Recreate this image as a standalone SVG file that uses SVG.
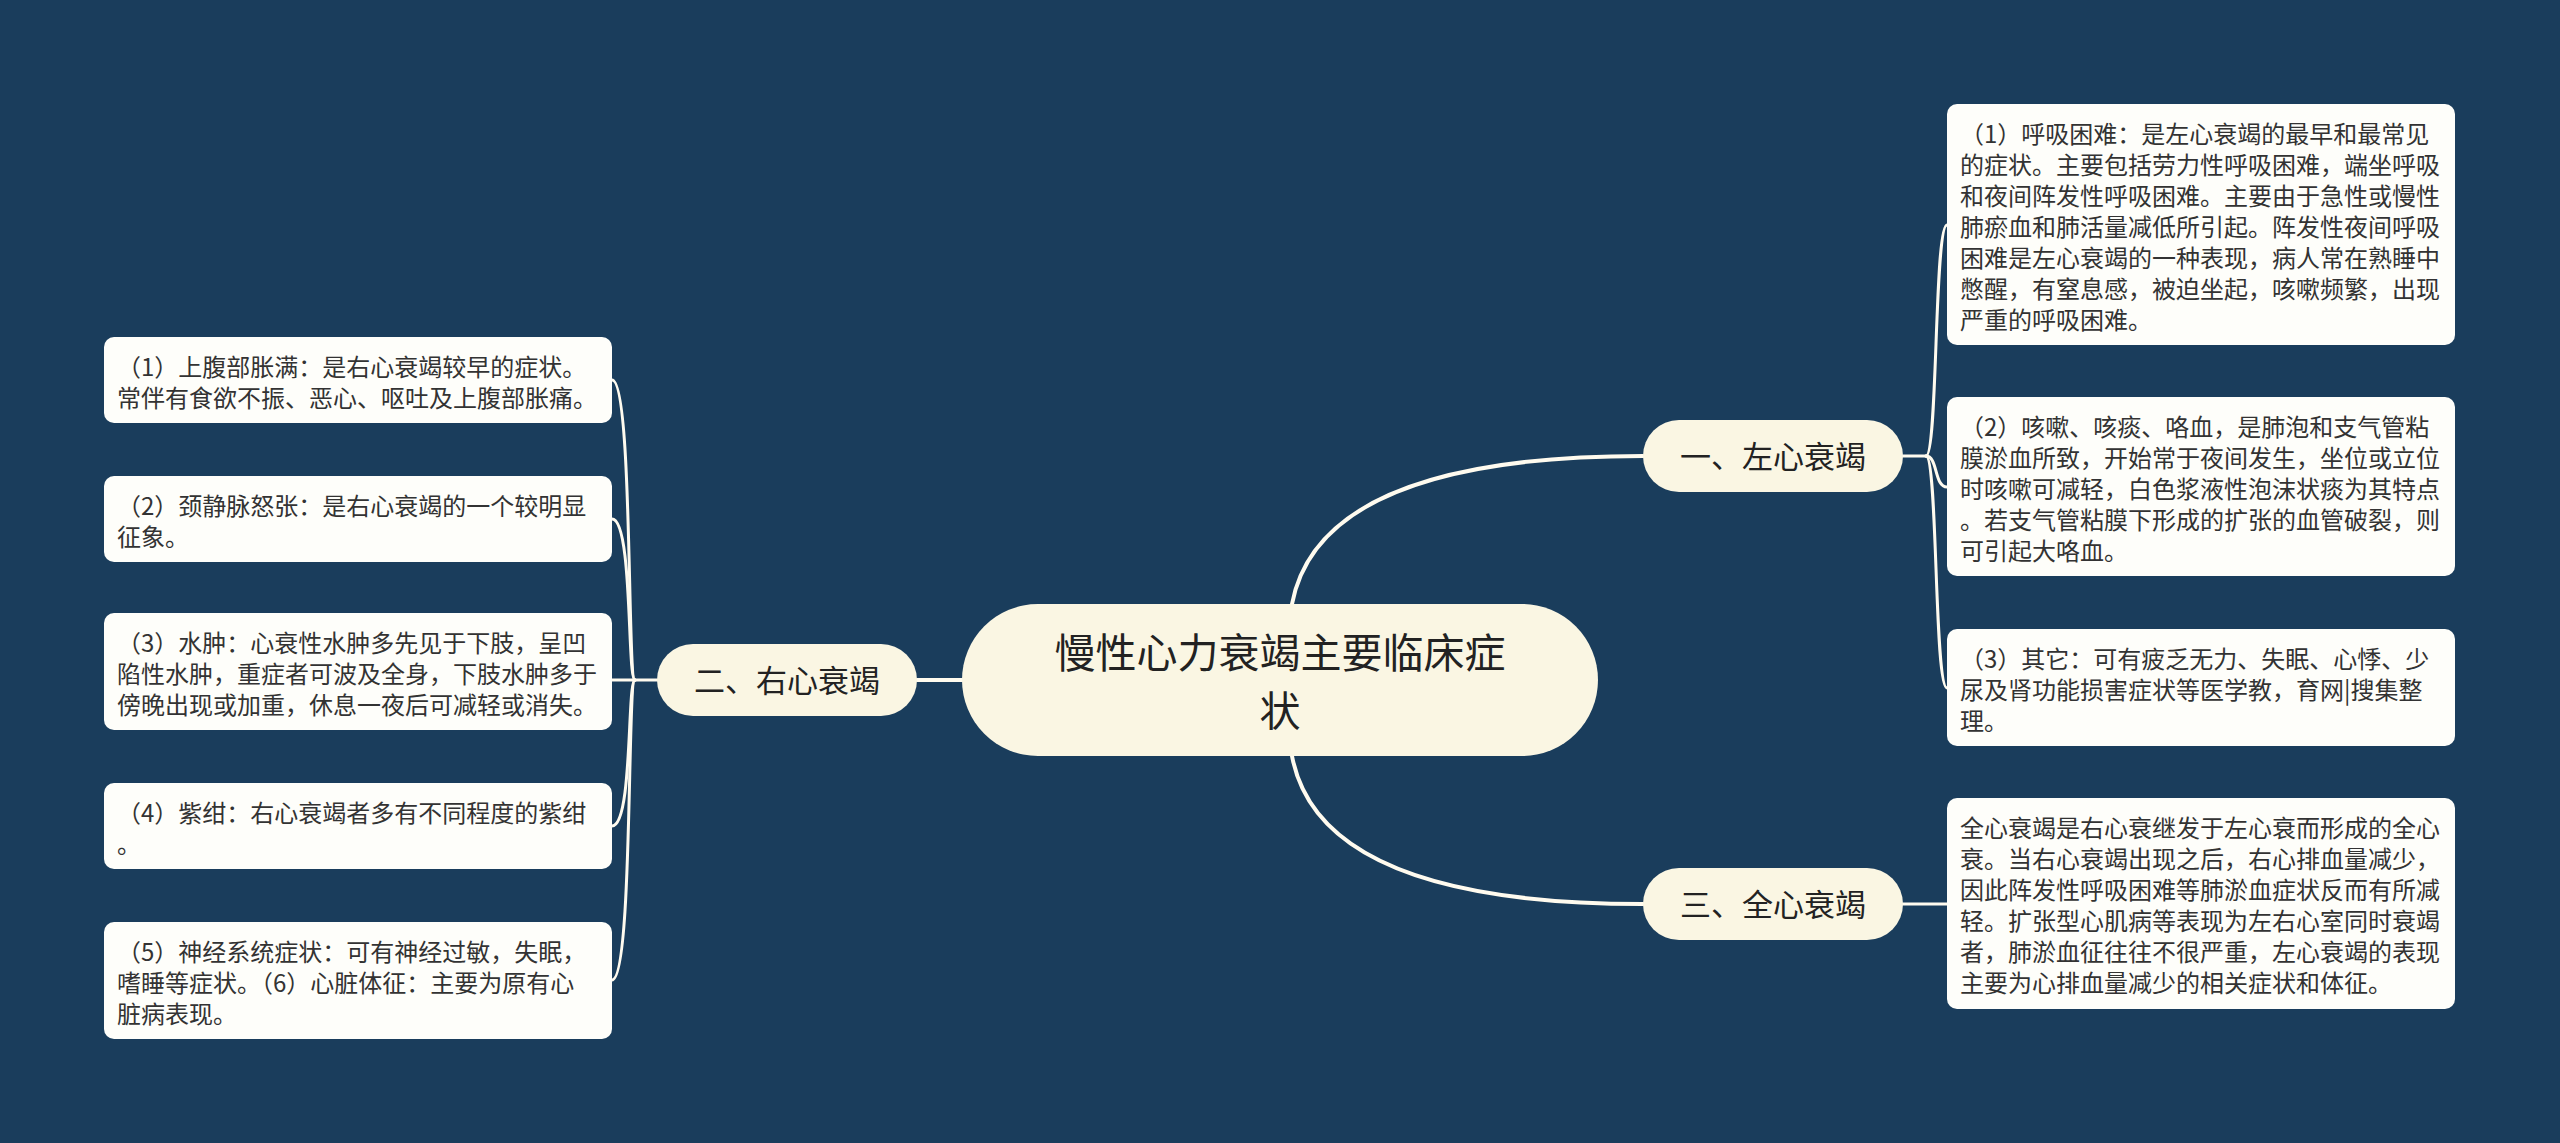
<svg xmlns="http://www.w3.org/2000/svg" width="2560" height="1143" viewBox="0 0 2560 1143">
<style>
.bg{fill:#1a3d5c}
.main{fill:#faf6e3}
.leaf{fill:#fefefa}
.t0{font-family:"Noto Sans CJK SC","Noto Sans",sans-serif;font-size:41px;fill:#222;text-anchor:middle}
.t1{font-family:"Noto Sans CJK SC","Noto Sans",sans-serif;font-size:31px;fill:#222;text-anchor:middle}
.t2{font-family:"Noto Sans CJK SC","Noto Sans",sans-serif;font-size:24px;fill:#333}
.c1{fill:none;stroke:#fffbef;stroke-width:4;stroke-linecap:round}
.c2{fill:none;stroke:#fffbef;stroke-width:3;stroke-linecap:round}
</style>
<rect class="bg" x="0" y="0" width="2560" height="1143"/>
<g id="connectors">
<path class="c1" d="M1292 604 Q1320 456 1643 456"/>
<path class="c1" d="M1292 756 Q1320 904 1643 904"/>
<path class="c1" d="M917 680 L962 680"/>
<path class="c2" d="M1903 904 L1947 904"/>
<path class="c2" d="M1903 456 L1926 456"/>
<path class="c2" d="M1926 456 C1938 456 1934 225 1947 225"/>
<path class="c2" d="M1926 456 C1938 456 1934 487 1947 487"/>
<path class="c2" d="M1926 456 C1938 456 1934 688 1947 688"/>
<path class="c2" d="M657 680 L612 680"/>
<path class="c2" d="M635 680 C627 680 633 380 612 380"/>
<path class="c2" d="M635 680 C627 680 633 519 612 519"/>
<path class="c2" d="M635 680 C627 680 633 826 612 826"/>
<path class="c2" d="M635 680 C627 680 633 980 612 980"/>
</g>
<g id="root">
<rect class="main" x="962" y="604" width="636" height="152" rx="76"/>
<text class="t0"><tspan x="1280" y="668">慢性心力衰竭主要临床症</tspan><tspan x="1280" y="726">状</tspan></text>
</g>
<g id="left-heart">
<rect class="main" x="1643" y="420" width="260" height="72" rx="36"/>
<text class="t1" x="1773" y="468">一、左心衰竭</text>
</g>
<g id="right-heart">
<rect class="main" x="657" y="644" width="260" height="72" rx="36"/>
<text class="t1" x="787" y="692">二、右心衰竭</text>
</g>
<g id="whole-heart">
<rect class="main" x="1643" y="868" width="260" height="72" rx="36"/>
<text class="t1" x="1773" y="916">三、全心衰竭</text>
</g>
<g id="r1">
<rect class="leaf" x="1947" y="104" width="508" height="241" rx="10"/>
<text class="t2"><tspan x="1960" y="143">（1）呼吸困难：是左心衰竭的最早和最常见</tspan><tspan x="1960" y="174">的症状。主要包括劳力性呼吸困难，端坐呼吸</tspan><tspan x="1960" y="205">和夜间阵发性呼吸困难。主要由于急性或慢性</tspan><tspan x="1960" y="236">肺瘀血和肺活量减低所引起。阵发性夜间呼吸</tspan><tspan x="1960" y="267">困难是左心衰竭的一种表现，病人常在熟睡中</tspan><tspan x="1960" y="298">憋醒，有窒息感，被迫坐起，咳嗽频繁，出现</tspan><tspan x="1960" y="329">严重的呼吸困难。</tspan></text>
</g>
<g id="r2">
<rect class="leaf" x="1947" y="397" width="508" height="179" rx="10"/>
<text class="t2"><tspan x="1960" y="436">（2）咳嗽、咳痰、咯血，是肺泡和支气管粘</tspan><tspan x="1960" y="467">膜淤血所致，开始常于夜间发生，坐位或立位</tspan><tspan x="1960" y="498">时咳嗽可减轻，白色浆液性泡沫状痰为其特点</tspan><tspan x="1960" y="529">。若支气管粘膜下形成的扩张的血管破裂，则</tspan><tspan x="1960" y="560">可引起大咯血。</tspan></text>
</g>
<g id="r3">
<rect class="leaf" x="1947" y="629" width="508" height="117" rx="10"/>
<text class="t2"><tspan x="1960" y="668">（3）其它：可有疲乏无力、失眠、心悸、少</tspan><tspan x="1960" y="699">尿及肾功能损害症状等医学教，育网|搜集整</tspan><tspan x="1960" y="730">理。</tspan></text>
</g>
<g id="r4">
<rect class="leaf" x="1947" y="798" width="508" height="211" rx="10"/>
<text class="t2"><tspan x="1960" y="837">全心衰竭是右心衰继发于左心衰而形成的全心</tspan><tspan x="1960" y="868">衰。当右心衰竭出现之后，右心排血量减少，</tspan><tspan x="1960" y="899">因此阵发性呼吸困难等肺淤血症状反而有所减</tspan><tspan x="1960" y="930">轻。扩张型心肌病等表现为左右心室同时衰竭</tspan><tspan x="1960" y="961">者，肺淤血征往往不很严重，左心衰竭的表现</tspan><tspan x="1960" y="992">主要为心排血量减少的相关症状和体征。</tspan></text>
</g>
<g id="l1">
<rect class="leaf" x="104" y="337" width="508" height="86" rx="10"/>
<text class="t2"><tspan x="117" y="376">（1）上腹部胀满：是右心衰竭较早的症状。</tspan><tspan x="117" y="407">常伴有食欲不振、恶心、呕吐及上腹部胀痛。</tspan></text>
</g>
<g id="l2">
<rect class="leaf" x="104" y="476" width="508" height="86" rx="10"/>
<text class="t2"><tspan x="117" y="515">（2）颈静脉怒张：是右心衰竭的一个较明显</tspan><tspan x="117" y="546">征象。</tspan></text>
</g>
<g id="l3">
<rect class="leaf" x="104" y="613" width="508" height="117" rx="10"/>
<text class="t2"><tspan x="117" y="652">（3）水肿：心衰性水肿多先见于下肢，呈凹</tspan><tspan x="117" y="683">陷性水肿，重症者可波及全身，下肢水肿多于</tspan><tspan x="117" y="714">傍晚出现或加重，休息一夜后可减轻或消失。</tspan></text>
</g>
<g id="l4">
<rect class="leaf" x="104" y="783" width="508" height="86" rx="10"/>
<text class="t2"><tspan x="117" y="822">（4）紫绀：右心衰竭者多有不同程度的紫绀</tspan><tspan x="117" y="853">。</tspan></text>
</g>
<g id="l5">
<rect class="leaf" x="104" y="922" width="508" height="117" rx="10"/>
<text class="t2"><tspan x="117" y="961">（5）神经系统症状：可有神经过敏，失眠，</tspan><tspan x="117" y="992">嗜睡等症状。（6）心脏体征：主要为原有心</tspan><tspan x="117" y="1023">脏病表现。</tspan></text>
</g>
</svg>
